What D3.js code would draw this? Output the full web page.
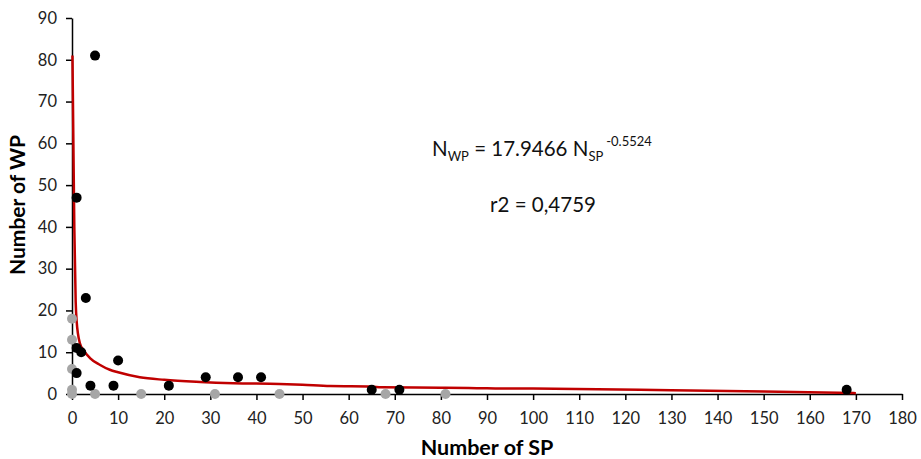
<!DOCTYPE html>
<html>
<head>
<meta charset="utf-8">
<script src="https://cdn.jsdelivr.net/npm/d3@7"></script>
<style>
  body { margin: 0; background: #fff; }
  text { font-family: Lato, "Open Sans", sans-serif; }
</style>
</head>
<body>
<svg width="921" height="459"></svg>
<script>
// WP vs SP, black = observed, gray = zero group
var blackPts = [[5,81],[1,47],[3,23],[1,11],[2,10],[1,5],[4,2],[9,2],[10,8],[21,2],
                [29,4],[36,4],[41,4],[65,1],[71,1],[168,1]];
var grayPts = [[0,18],[0,13],[0,6],[0,1],[0,0],[5,0],[15,0],[31,0],[45,0],[68,0],[81,0]];
// trend line
var fitLine = [[0.1,81],[0.3,60],[0.5,40],[0.8,22],[1,17.5],[1.7,12.2],[2.5,10.5],[3.9,8.6],
               [6,7],[8.2,5.8],[10,5.2],[14.7,4],[20,3.4],[27.8,2.9],[35,2.6],[45,2.4],[50,2.2],
               [56,1.9],[65,1.8],[67,1.6],[80,1.5],[86,1.45],[90,1.35],[100,1.3],[114,1.12],
               [130,0.9],[150,0.6],[170,0.2]];
var xTicks = d3.range(0, 181, 10);
var yTicks = d3.range(0, 91, 10);

var svg = d3.select("svg");
var plotLeft = 72, plotRight = 902, plotTop = 18, plotBottom = 394;

var x = d3.scaleLinear().domain([0,180]).range([plotLeft,plotRight]);
var y = d3.scaleLinear().domain([0,90]).range([plotBottom,plotTop]);

//坐标轴
var xAxis = svg.append("g")
    .attr("transform", "translate(0," + plotBottom + ")")
    .call(d3.axisBottom(x).tickValues(xTicks).tickSize(6).tickSizeOuter(0).tickPadding(12));
var yAxis = svg.append("g")
    .attr("transform", "translate(" + plotLeft + ",0)")
    .call(d3.axisLeft(y).tickValues(yTicks).tickSize(6).tickSizeOuter(0).tickPadding(9));

[xAxis, yAxis].forEach(function(g){
    g.select(".domain").attr("stroke", "#000").attr("stroke-width", 1.5);
    g.selectAll(".tick line").attr("stroke", "#000").attr("stroke-width", 1.5);
    g.selectAll(".tick text").attr("fill", "#222").style("font-size", "16.5px")
        .style("font-family", "Lato, sans-serif");
});

//趋势线
svg.append("path")
    .datum(fitLine)
    .attr("fill", "none")
    .attr("stroke", "#c00000")
    .attr("stroke-width", 2.5)
    .attr("d", d3.line().x(function(d){ return x(d[0]); }).y(function(d){ return y(d[1]); })
        .curve(d3.curveMonotoneX));

//点
svg.append("g").selectAll("circle")
    .data(grayPts).enter().append("circle")
    .attr("cx", function(d){ return x(d[0]); })
    .attr("cy", function(d){ return y(d[1]); })
    .attr("r", 5)
    .attr("fill", "#a6a6a6");

svg.append("g").selectAll("circle")
    .data(blackPts).enter().append("circle")
    .attr("cx", function(d){ return x(d[0]); })
    .attr("cy", function(d){ return y(d[1]); })
    .attr("r", 5)
    .attr("fill", "#000");

//轴标题
svg.append("text")
    .attr("x", 487).attr("y", 455)
    .attr("text-anchor", "middle")
    .style("font-size", "21.5px").style("font-weight", "bold")
    .text("Number of SP");

svg.append("text")
    .attr("transform", "translate(25,205) rotate(-90)")
    .attr("text-anchor", "middle")
    .style("font-size", "21px").style("font-weight", "bold")
    .text("Number of WP");

//公式
var eq = svg.append("text")
    .attr("x", 432).attr("y", 156)
    .style("font-size", "20.5px").attr("fill", "#111");
eq.append("tspan").text("N");
eq.append("tspan").attr("dy", 5).style("font-size", "13px").text("WP");
eq.append("tspan").attr("dy", -5).text(" = 17.9466 N");
eq.append("tspan").attr("dy", 5).style("font-size", "13px").text("SP");
eq.append("tspan").attr("dy", -15).style("font-size", "13px").text(" -0.5524");

svg.append("text")
    .attr("x", 543).attr("y", 212)
    .attr("text-anchor", "middle")
    .style("font-size", "20.5px").attr("fill", "#111")
    .text("r2 = 0,4759");
</script>
</body>
</html>
